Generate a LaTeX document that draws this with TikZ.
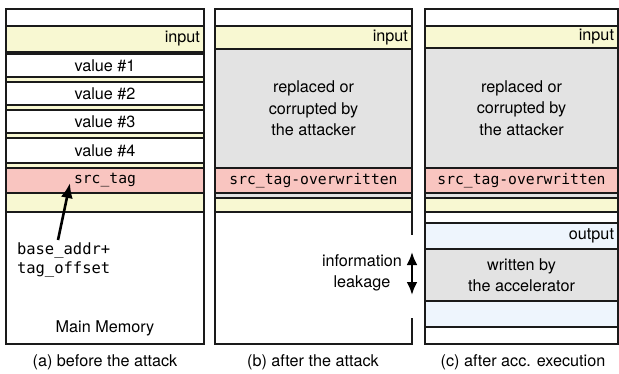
\documentclass[tikz,border=0pt]{standalone}
\usepackage{fontspec}
\setmainfont{TeX Gyre Heros}
\setmonofont{DejaVu Sans Mono}
\usepackage{tikz}
\usetikzlibrary{arrows}
\usetikzlibrary{arrows.meta}
\usetikzlibrary{positioning}
\definecolor{inputc}{HTML}{F8F8D2}
\definecolor{tagc}{HTML}{F9C5C0}
\definecolor{grayc}{HTML}{E3E3E3}
\definecolor{outc}{HTML}{EEF5FD}
\definecolor{linec}{HTML}{1A1A1A}
\tikzstyle{every node}+=[inner sep=0pt, outer sep=0pt]
\tikzstyle{cell} = [rectangle, draw=linec, line width=1.3pt, anchor=north west, fill=white]
\tikzstyle{cola} = [cell, minimum width=198pt]
\tikzstyle{colb} = [cell, minimum width=197pt]
\tikzstyle{colc} = [cell, minimum width=193pt]
\tikzstyle{txt} = [font=\fontsize{16.2}{21.5}\selectfont, align=center]
\tikzstyle{code} = [font=\fontsize{14.7}{20}\selectfont\ttfamily, align=left]
\tikzstyle{line} = [draw=linec, line width=1.3pt]
\tikzstyle{ptr} = [draw=black, line width=2.6pt, -{Latex[length=15pt, width=12pt]}]
\tikzstyle{leakarrow} = [draw=black, line width=2.4pt, {Latex[length=13pt, width=11pt]}-{Latex[length=13pt, width=11pt]}]

\begin{document}
\begin{tikzpicture}[x=1pt, y=-1pt]
            \useasboundingbox (0,0) rectangle (619,373);
            % (a) before the attack
            \node [cola, minimum height=17pt] (a0) at (6,9) {};
            \node [cola, fill=inputc, minimum height=26pt] (ain) at (6,26) {};
            \node [txt, anchor=east] at ([xshift=-4pt]ain.east) {input};
            \node [cola, fill=inputc, minimum height=160pt] (ayel) at (6,52) {};
            \node [cola, minimum height=23pt] (v1) at (6,54) {};
            \node [cola, minimum height=23pt] (v2) at (6,82) {};
            \node [cola, minimum height=23pt] (v3) at (6,110) {};
            \node [cola, minimum height=25pt] (v4) at (6,138) {};
            \node [txt] at (v1) {value \#1};
            \node [txt] at (v2) {value \#2};
            \node [txt] at (v3) {value \#3};
            \node [txt] at (v4) {value \#4};
            \node [cola, fill=tagc, minimum height=25pt] (atag) at (6,168) {};
            \node [code] at (atag) {src\_tag};
            \node [cola, minimum height=132pt] (amem) at (6,212) {};
            \node [txt, above=8pt of amem.south] (mm) {Main Memory};
            \node [code, font=\fontsize{15.5}{19.5}\selectfont\ttfamily, anchor=west] (addr) at (17,260) {base\_addr+\\tag\_offset};
            \coordinate (tip) at (70,183);
            \draw [ptr] (58,240) -- (tip);
            \node [txt] (capa) at (105,362) {(a) before the attack};
            % (b) after the attack
            \node [colb, minimum height=17pt] (b0) at (215,9) {};
            \node [colb, fill=inputc, minimum height=23pt] (bin) at (215,26) {};
            \node [txt, anchor=east] at ([xshift=-4pt]bin.east) {input};
            \node [colb, fill=grayc, minimum height=119pt] (bgray) at (215,49) {};
            \node [txt] at (bgray) {replaced or\\corrupted by\\the attacker};
            \node [colb, fill=tagc, minimum height=25pt] (btag) at (215,168) {};
            \node [code] at (btag) {src\_tag-overwritten};
            \node [colb, fill=grayc, minimum height=5pt] (bstrip) at (215,193) {};
            \node [colb, fill=inputc, minimum height=14pt] (byel) at (215,198) {};
            \draw [line] (byel.south east) -- ++(0,23);
            \draw [line] (412,318) |- (215,344) -- (byel.south west);
            \draw [leakarrow] (412,252) -- (412,295);
            \node [txt] (leak) at (362,273) {information\\leakage};
            \node [txt] (capb) at (313,362) {(b) after the attack};
            % (c) after acc. execution
            \node [colc, minimum height=17pt] (c0) at (425,9) {};
            \node [colc, fill=inputc, minimum height=22pt] (cin) at (425,26) {};
            \node [txt, anchor=east] at ([xshift=-4pt]cin.east) {input};
            \node [colc, fill=grayc, minimum height=120pt] (cgray) at (425,48) {};
            \node [txt] at (cgray) {replaced or\\corrupted by\\the attacker};
            \node [colc, fill=tagc, minimum height=25pt] (ctag) at (425,168) {};
            \node [code] at (ctag) {src\_tag-overwritten};
            \node [colc, fill=grayc, minimum height=5pt] (cstrip) at (425,193) {};
            \node [colc, fill=inputc, minimum height=14pt] (cyel) at (425,198) {};
            \node [colc, minimum height=11pt] (cwht) at (425,212) {};
            \node [colc, fill=outc, minimum height=26pt] (cout) at (425,223) {};
            \node [txt, anchor=east] at ([xshift=-4pt]cout.east) {output};
            \node [colc, fill=grayc, minimum height=52pt] (cacc) at (425,249) {};
            \node [txt] at (cacc) {written by\\the accelerator};
            \node [colc, fill=outc, minimum height=26pt] (cblu) at (425,301) {};
            \node [colc, minimum height=17pt] (cend) at (425,327) {};
            \node [txt] (capc) at (523,362) {(c) after acc. execution};
          \end{tikzpicture}
\end{document}
